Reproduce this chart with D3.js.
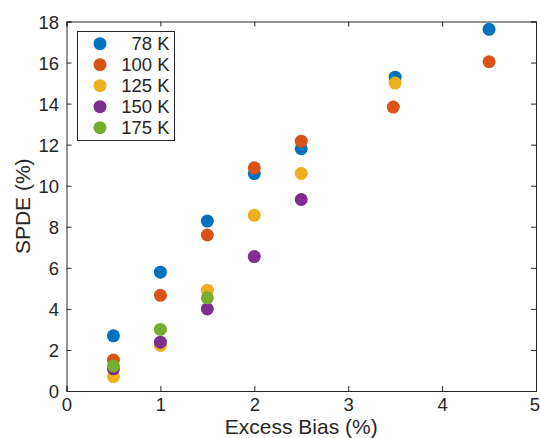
<!DOCTYPE html>
<html>
<head>
<meta charset="utf-8">
<script src="https://cdn.jsdelivr.net/npm/d3@7"></script>
<style>
  body { margin: 0; background: #fff; }
  svg text { font-family: "Liberation Sans", Arial, sans-serif; fill: #262626; }
</style>
</head>
<body>
<div id="chart"></div>
<script>
// Excess bias (%) vs SPDE (%) at several temperatures
const seriesNames = ['78 K', '100 K', '125 K', '150 K', '175 K'];
const seriesColors = ['#0072BD', '#D95319', '#EDB120', '#7E2F8E', '#77AC30'];

const bias78 = [0.5, 1, 1.5, 2, 2.5, 3.5, 4.5];
const spde78 = [2.69, 5.79, 8.28, 10.59, 11.8, 15.29, 17.62];

const bias100 = [0.5, 1, 1.5, 2, 2.5, 3.48, 4.5];
const spde100 = [1.51, 4.66, 7.6, 10.87, 12.17, 13.83, 16.04];

const bias125 = [0.5, 1, 1.5, 2, 2.5, 3.5];
const spde125 = [0.7, 2.22, 4.91, 8.56, 10.6, 15.0];

const bias150 = [0.5, 1, 1.5, 2, 2.5];
const spde150 = [1.08, 2.38, 4.0, 6.55, 9.33];

const bias175 = [0.5, 1, 1.5];
const spde175 = [1.22, 3.0, 4.54];

const xTicks = [0, 1, 2, 3, 4, 5];
const yTicks = [0, 2, 4, 6, 8, 10, 12, 14, 16, 18];

const allX = [bias78, bias100, bias125, bias150, bias175];
const allY = [spde78, spde100, spde125, spde150, spde175];
const series = seriesNames.map((name, i) => ({
  name: name,
  color: seriesColors[i],
  points: allX[i].map((x, j) => ({ x: x, y: allY[i][j] }))
}));

const width = 540, height = 438;
const margin = { left: 66.5, right: 4, top: 21.5, bottom: 47 };

const svg = d3.select('#chart').append('svg')
  .attr('width', width)
  .attr('height', height);

const x = d3.scaleLinear().domain([0, 5]).range([margin.left, width - margin.right]);
const y = d3.scaleLinear().domain([0, 18]).range([height - margin.bottom, margin.top]);

const axisColor = '#262626';
const tickLen = 5;
const tickFont = 18.5;

// axes (ticks point inward, box on)
const gx = svg.append('g').attr('transform', `translate(0,${y(0)})`)
  .call(d3.axisBottom(x).tickValues(xTicks).tickSize(-tickLen).tickPadding(7).tickFormat(d3.format('d')));
const gy = svg.append('g').attr('transform', `translate(${x(0)},0)`)
  .call(d3.axisLeft(y).tickValues(yTicks).tickSize(-tickLen).tickPadding(7.5).tickFormat(d3.format('d')));
const gxt = svg.append('g').attr('transform', `translate(0,${y(18)})`)
  .call(d3.axisTop(x).tickValues(xTicks).tickSize(-tickLen).tickFormat(''));
const gyr = svg.append('g').attr('transform', `translate(${x(5)},0)`)
  .call(d3.axisRight(y).tickValues(yTicks).tickSize(-tickLen).tickFormat(''));

[gx, gy, gxt, gyr].forEach(g => {
  g.selectAll('.domain').attr('stroke', axisColor).attr('stroke-width', 1);
  g.selectAll('.tick line').attr('stroke', axisColor).attr('stroke-width', 1);
  g.selectAll('.tick text').attr('font-size', tickFont).attr('fill', axisColor);
});
gy.selectAll('.tick text').attr('dy', '0.36em');
gx.selectAll('.tick text').attr('dy', '0.71em');
// last x label sits right at the page edge; pull it in a touch
gx.selectAll('.tick text').filter(d => d === 5).attr('dx', -1.5);

// axis labels
svg.append('text')
  .attr('x', (x(0) + x(5)) / 2)
  .attr('y', 434)
  .attr('text-anchor', 'middle')
  .attr('font-size', 21)
  .text('Excess Bias (%)');

svg.append('text')
  .attr('transform', `translate(30,${(y(0) + y(18)) / 2}) rotate(-90)`)
  .attr('text-anchor', 'middle')
  .attr('font-size', 21)
  .text('SPDE (%)');

// points
const markerR = 6.5;
series.forEach(s => {
  svg.append('g').selectAll('circle')
    .data(s.points)
    .join('circle')
    .attr('cx', d => x(d.x))
    .attr('cy', d => y(d.y))
    .attr('r', markerR)
    .attr('fill', s.color);
});

// legend
const legend = svg.append('g');
legend.append('rect')
  .attr('x', 77.5).attr('y', 31.5)
  .attr('width', 97).attr('height', 109)
  .attr('fill', '#fff')
  .attr('stroke', axisColor)
  .attr('stroke-width', 1);

const rowY = d3.scalePoint().domain(seriesNames).range([43.7, 127.7]);
series.forEach(s => {
  legend.append('circle')
    .attr('cx', 100).attr('cy', rowY(s.name))
    .attr('r', markerR)
    .attr('fill', s.color);
  legend.append('text')
    .attr('x', 169.5).attr('y', rowY(s.name))
    .attr('dy', '0.36em')
    .attr('text-anchor', 'end')
    .attr('font-size', tickFont)
    .text(s.name);
});
</script>
</body>
</html>
